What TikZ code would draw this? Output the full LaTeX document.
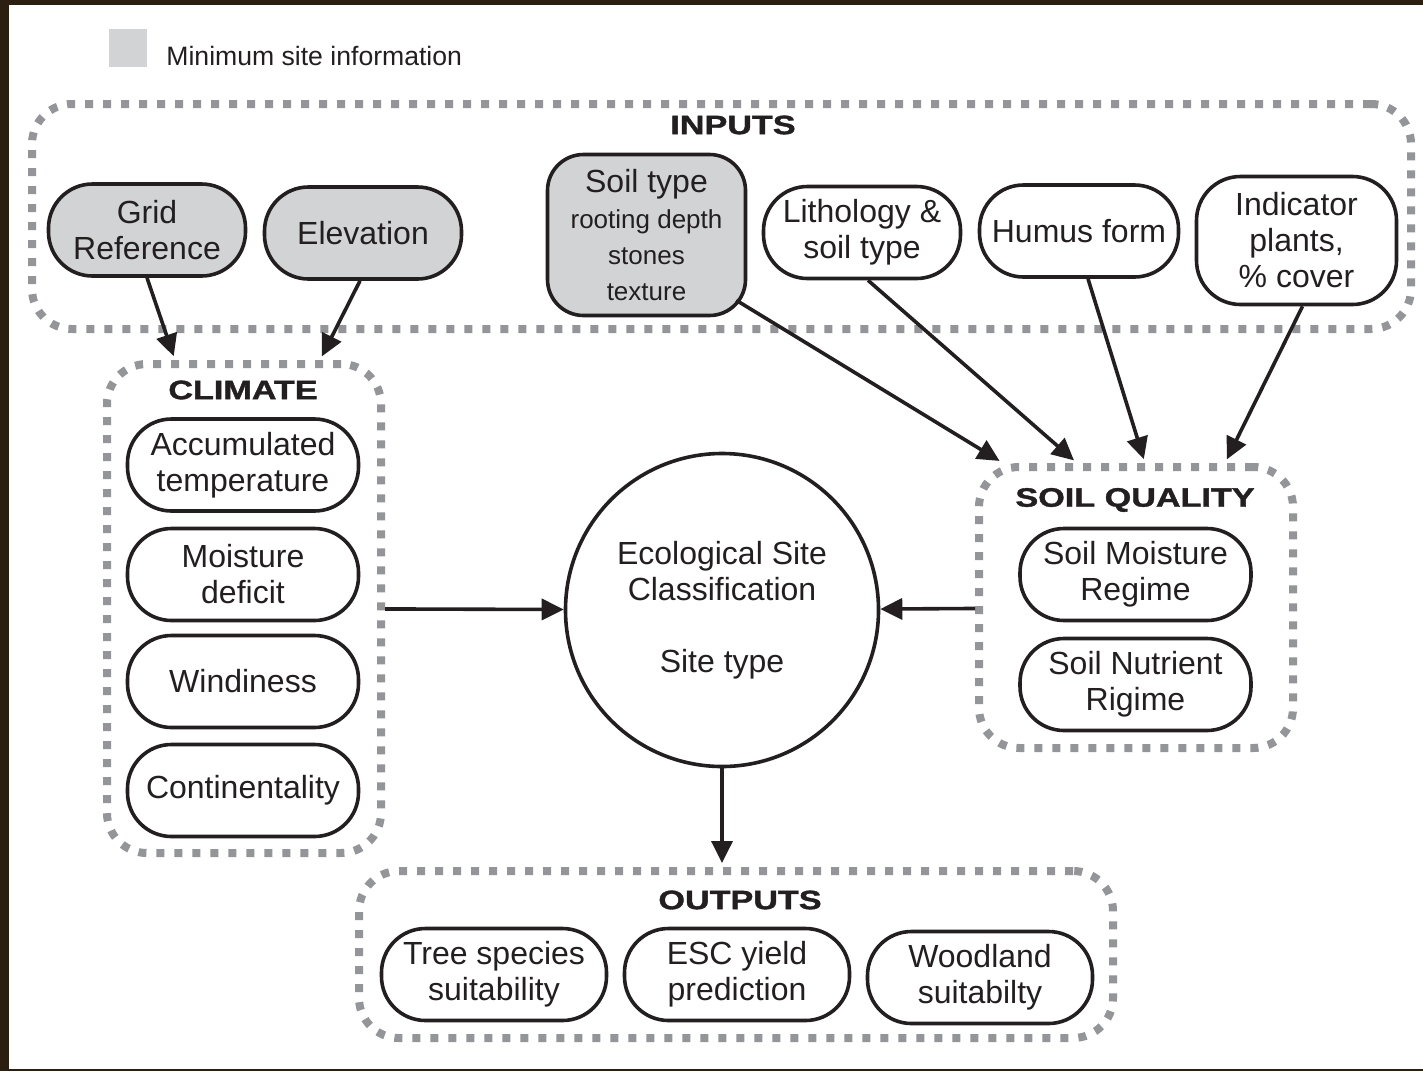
\documentclass[tikz,border=0pt]{standalone}
\usepackage{fontspec}
\setmainfont{Liberation Sans}
\newfontfamily\headfont[BoldFeatures={FakeBold=1.2}]{Liberation Sans}
\usepackage{graphicx}
\usepackage{tikz}
\usetikzlibrary{arrows.meta}
\definecolor{sitegray}{HTML}{D1D3D4}
\definecolor{dotgray}{HTML}{939598}
\definecolor{inkblack}{HTML}{231F20}
\definecolor{screenbrown}{HTML}{2B1F12}
\tikzstyle{arrow} = [line width=1.8pt,-{Triangle[length=11pt,width=10.5pt]}]
\tikzstyle{grouparrow} = [arrow, shorten >=2pt]
\tikzstyle{infobox} = [draw=inkblack, line width=1.8pt, rounded corners=22pt, align=center, inner sep=1pt, font=\fontsize{16}{18}\selectfont, minimum height=46pt]
\tikzstyle{minbox} = [infobox, fill=sitegray]
\tikzstyle{groupbox} = [draw=dotgray, line width=4pt, dash pattern=on 4pt off 5pt, rounded corners=20pt]
\newcommand{\grouptitle}[1]{\scalebox{1.22}[0.95]{\fontsize{14}{16}\selectfont\headfont\bfseries #1}}
\newcommand{\subfont}{\fontsize{13}{16.5}\selectfont}

\begin{document}
\begin{tikzpicture}[x=0.5pt,y=-0.5pt,inkblack]
        \useasboundingbox (0,0) rectangle (1423,1071);
        \fill[screenbrown] (0,0) rectangle (1423,1071);
        \fill[white] (9,5) rectangle (1423,1069);

        % legend
        \node[fill=sitegray, minimum size=19pt, inner sep=0] (legendkey) at (128,48) {};
        \node[anchor=west, inner sep=0, font=\fontsize{13.3}{16}\selectfont] (legendtext) at (166,56) {Minimum site information};

        % groups
        \node[groupbox, minimum width=689.5pt, minimum height=112.5pt] (inputs) at (721.5,216.5) {};
        \node[groupbox, minimum width=137pt, minimum height=244.5pt] (climate) at (244,608.5) {};
        \node[groupbox, minimum width=157pt, minimum height=140.5pt] (quality) at (1136,607.5) {};
        \node[groupbox, minimum width=377pt, minimum height=83.5pt] (outputs) at (736,954.5) {};
        \node (inputstitle) at (733,125) {\grouptitle{INPUTS}};
        \node (climatetitle) at (243,390) {\grouptitle{CLIMATE}};
        \node (qualitytitle) at (1135,500) {\grouptitle{SOIL QUALITY}};
        \node (outputstitle) at (740,900) {\grouptitle{OUTPUTS}};

        % inputs
        \node[minbox, minimum width=98.5pt] (grid) at (147,230) {Grid\\Reference};
        \node[minbox, minimum width=98.5pt] (elev) at (363,233) {Elevation};
        \node[minbox, rounded corners=18pt, minimum width=99pt, minimum height=80.5pt] (soil) at (646.5,235) {Soil type\\\subfont rooting depth\\\subfont stones\\\subfont texture};
        \node[infobox, minimum width=98.5pt] (litho) at (862,232.5) {Lithology \&\\soil type};
        \node[infobox, minimum width=99.5pt] (humus) at (1079,231) {Humus form};
        \node[infobox, minimum width=100pt, minimum height=64pt] (indic) at (1296.5,240.5) {Indicator\\plants,\\\% cover};

        % climate
        \node[infobox, minimum width=115.5pt] (accum) at (243,465) {Accumulated\\temperature};
        \node[infobox, minimum width=115.5pt] (moist) at (243,574.5) {Moisture\\deficit};
        \node[infobox, minimum width=115.5pt] (windy) at (243,681.5) {Windiness};
        \node[infobox, minimum width=115.5pt] (conti) at (243,790.5) {Continentality};

        % centre
        \node[circle, draw=inkblack, line width=1.8pt, minimum size=156.5pt, inner sep=0, align=center, font=\fontsize{16}{18}\selectfont] (esc) at (722,610) {Ecological Site\\Classification\\[18pt]Site type};

        % soil quality
        \node[infobox, minimum width=115.5pt] (smr) at (1135.5,574.5) {Soil Moisture\\Regime};
        \node[infobox, minimum width=115.5pt] (snr) at (1135.5,684.5) {Soil Nutrient\\Rigime};

        % outputs
        \node[infobox, minimum width=112.5pt] (trees) at (494,974.5) {Tree species\\suitability};
        \node[infobox, minimum width=112.5pt] (yield) at (737,974.5) {ESC yield\\prediction};
        \node[infobox, minimum width=112.5pt] (wood) at (980,977.5) {Woodland\\suitabilty};

        \draw[grouparrow] (grid.south) -- ([xshift=-34.5pt]climate.north);
        \draw[grouparrow] ([xshift=-1.5pt]elev.south) -- ([xshift=38pt]climate.north);
        \draw[grouparrow] ([xshift=-5.5pt,yshift=8.5pt]soil.south east) -- ([xshift=-66.5pt]quality.north);
        \draw[grouparrow] ([xshift=3pt]litho.south) -- ([xshift=-29.5pt]quality.north);
        \draw[grouparrow] ([xshift=4.5pt]humus.south) -- ([xshift=4.5pt]quality.north);
        \draw[grouparrow] ([xshift=3pt]indic.south) -- ([xshift=44.5pt]quality.north);
        \draw[arrow] (climate) -- (esc);
        \draw[arrow] (quality) -- (esc);
        \draw[grouparrow] (esc.south) -- (esc.south |- outputs.north);
    \end{tikzpicture}
\end{document}
